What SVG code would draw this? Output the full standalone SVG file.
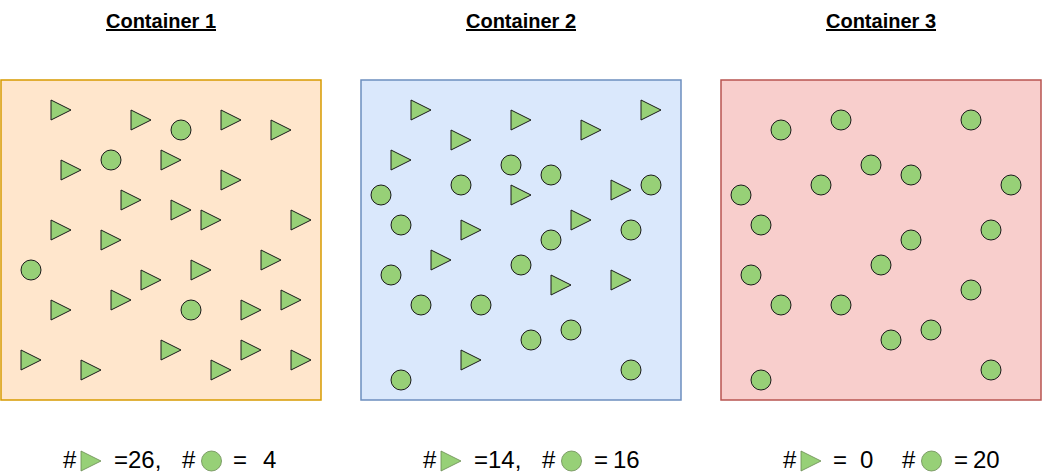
<svg xmlns="http://www.w3.org/2000/svg" width="1042" height="473" viewBox="0 0 1042 473">
<style>
.title{font-family:"Liberation Sans",Arial,sans-serif;font-size:20px;font-weight:bold;text-decoration:underline;fill:#000}
.lbl{font-family:"Liberation Sans",Arial,sans-serif;font-size:24px;fill:#000}
.c{fill:#97d077;stroke:#1a1a1a;stroke-width:1}
.ic{fill:#97d077;stroke:#6a8a52;stroke-width:0.8}
</style>
<defs>
<polygon id="tri" points="0,0 20,10 0,20" class="c"/>
<circle id="cir" cx="0" cy="0" r="10" class="c"/>
</defs>
<rect width="1042" height="473" fill="#ffffff"/>
<g id="connectors"/>
<g id="container1">
<text class="title" x="161" y="28" text-anchor="middle">Container 1</text>
<rect x="1" y="80" width="320" height="320" fill="#ffe6cc" stroke="#d79b00" stroke-width="1.5"/>
<use href="#tri" x="51" y="100"/><use href="#tri" x="131" y="110"/><use href="#tri" x="221" y="110"/><use href="#tri" x="271" y="120"/>
<use href="#tri" x="161" y="150"/><use href="#tri" x="61" y="160"/><use href="#tri" x="221" y="170"/><use href="#tri" x="121" y="190"/>
<use href="#tri" x="171" y="200"/><use href="#tri" x="201" y="210"/><use href="#tri" x="291" y="210"/><use href="#tri" x="51" y="220"/>
<use href="#tri" x="101" y="230"/><use href="#tri" x="261" y="250"/><use href="#tri" x="191" y="260"/><use href="#tri" x="141" y="270"/>
<use href="#tri" x="111" y="290"/><use href="#tri" x="51" y="300"/><use href="#tri" x="241" y="300"/><use href="#tri" x="281" y="290"/>
<use href="#tri" x="21" y="350"/><use href="#tri" x="81" y="360"/><use href="#tri" x="161" y="340"/><use href="#tri" x="211" y="360"/>
<use href="#tri" x="241" y="340"/><use href="#tri" x="291" y="350"/>
<use href="#cir" x="181" y="130"/><use href="#cir" x="111" y="160"/><use href="#cir" x="31" y="270"/><use href="#cir" x="191" y="310"/>
</g>
<g id="container2">
<text class="title" x="521" y="28" text-anchor="middle">Container 2</text>
<rect x="361" y="80" width="320" height="320" fill="#dae8fc" stroke="#6c8ebf" stroke-width="1.5"/>
<use href="#tri" x="411" y="100"/><use href="#tri" x="511" y="110"/><use href="#tri" x="641" y="100"/><use href="#tri" x="581" y="120"/>
<use href="#tri" x="451" y="130"/><use href="#tri" x="391" y="150"/><use href="#tri" x="511" y="185"/><use href="#tri" x="611" y="180"/>
<use href="#tri" x="461" y="220"/><use href="#tri" x="571" y="210"/><use href="#tri" x="431" y="250"/><use href="#tri" x="551" y="275"/>
<use href="#tri" x="611" y="270"/><use href="#tri" x="461" y="350"/>
<use href="#cir" x="511" y="165"/><use href="#cir" x="551" y="175"/><use href="#cir" x="461" y="185"/><use href="#cir" x="381" y="195"/>
<use href="#cir" x="651" y="185"/><use href="#cir" x="401" y="225"/><use href="#cir" x="631" y="230"/><use href="#cir" x="551" y="240"/>
<use href="#cir" x="391" y="275"/><use href="#cir" x="521" y="265"/><use href="#cir" x="421" y="305"/><use href="#cir" x="481" y="305"/>
<use href="#cir" x="531" y="340"/><use href="#cir" x="571" y="330"/><use href="#cir" x="401" y="380"/><use href="#cir" x="631" y="370"/>
</g>
<g id="container3">
<text class="title" x="881" y="28" text-anchor="middle">Container 3</text>
<rect x="721" y="80" width="320" height="320" fill="#f8cecc" stroke="#b85450" stroke-width="1.5"/>
<use href="#cir" x="781" y="130"/><use href="#cir" x="841" y="120"/><use href="#cir" x="971" y="120"/><use href="#cir" x="871" y="165"/>
<use href="#cir" x="911" y="175"/><use href="#cir" x="821" y="185"/><use href="#cir" x="741" y="195"/><use href="#cir" x="1011" y="185"/>
<use href="#cir" x="761" y="225"/><use href="#cir" x="991" y="230"/><use href="#cir" x="911" y="240"/><use href="#cir" x="751" y="275"/>
<use href="#cir" x="881" y="265"/><use href="#cir" x="971" y="290"/><use href="#cir" x="781" y="305"/><use href="#cir" x="841" y="305"/>
<use href="#cir" x="891" y="340"/><use href="#cir" x="931" y="330"/><use href="#cir" x="761" y="380"/><use href="#cir" x="991" y="370"/>
</g>
<g id="count1">
<text class="lbl" x="63" y="468">#</text>
<polygon class="ic" points="81,451 101,461 81,471"/>
<text class="lbl" x="114" y="468">=26,</text>
<text class="lbl" x="182" y="468">#</text>
<circle class="ic" cx="211.5" cy="461" r="10"/>
<text class="lbl" x="233" y="468">=</text>
<text class="lbl" x="263" y="468">4</text>
</g>
<g id="count2">
<text class="lbl" x="423" y="468">#</text>
<polygon class="ic" points="441,451 461,461 441,471"/>
<text class="lbl" x="474" y="468">=14,</text>
<text class="lbl" x="542" y="468">#</text>
<circle class="ic" cx="571.5" cy="461" r="10"/>
<text class="lbl" x="594" y="468">=</text>
<text class="lbl" x="613" y="468">16</text>
</g>
<g id="count3">
<text class="lbl" x="783" y="468">#</text>
<polygon class="ic" points="801,451 821,461 801,471"/>
<text class="lbl" x="833" y="468">=</text>
<text class="lbl" x="860" y="468">0</text>
<text class="lbl" x="902" y="468">#</text>
<circle class="ic" cx="931.5" cy="461" r="10"/>
<text class="lbl" x="954" y="468">=</text>
<text class="lbl" x="973" y="468">20</text>
</g>
</svg>
